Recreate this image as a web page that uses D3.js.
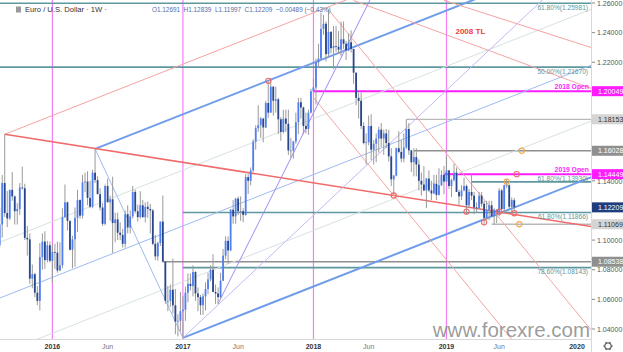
<!DOCTYPE html>
<html>
<head>
<meta charset="utf-8">
<script src="https://cdnjs.cloudflare.com/ajax/libs/d3/7.8.5/d3.min.js"></script>
<style>
  body { margin: 0; background: #fff; }
  svg { display: block; font-family: "Liberation Sans", Arial, sans-serif; }
</style>
</head>
<body>
<div id="chart"></div>
<script>
// weekly EUR/USD bars, [open, high, low, close], first bar = week of 2015-08-03
const firstBar = "2015-08-03";
const bars2015 = [
  [1.0985,1.1040,1.0850,1.0965],[1.0965,1.1215,1.0950,1.1105],[1.1105,1.1440,1.1017,1.1385],[1.1385,1.1714,1.1157,1.1183],
  [1.1183,1.1332,1.1087,1.1146],[1.1146,1.1340,1.1135,1.1339],[1.1339,1.1460,1.1265,1.1295],[1.1295,1.1300,1.1105,1.1195],
  [1.1195,1.1250,1.1105,1.1210],[1.1210,1.1385,1.1170,1.1355],[1.1355,1.1495,1.1340,1.1350],[1.1350,1.1380,1.1000,1.1015],
  [1.1015,1.1095,1.0895,1.1005],[1.1005,1.1045,1.0705,1.0740],[1.0740,1.0835,1.0675,1.0770],[1.0770,1.0780,1.0615,1.0645],
  [1.0645,1.0690,1.0560,1.0590],[1.0590,1.0980,1.0525,1.0885],[1.0885,1.1045,1.0800,1.0990],[1.0990,1.1060,1.0805,1.0865],
  [1.0865,1.0995,1.0850,1.0965],[1.0965,1.0990,1.0850,1.0860]
];
const bars2016 = [
  [1.0860,1.0970,1.0710,1.0920],[1.0920,1.0975,1.0805,1.0915],[1.0915,1.0990,1.0780,1.0795],[1.0795,1.0985,1.0790,1.0830],
  [1.0830,1.1215,1.0810,1.1155],[1.1155,1.1375,1.1150,1.1255],[1.1255,1.1260,1.1065,1.1130],[1.1130,1.1130,1.0930,1.0935],
  [1.0935,1.1030,1.0810,1.1005],[1.1005,1.1220,1.0820,1.1150],[1.1150,1.1340,1.1055,1.1270],[1.1270,1.1275,1.1145,1.1165],
  [1.1165,1.1440,1.1145,1.1390],[1.1390,1.1455,1.1325,1.1395],[1.1395,1.1465,1.1235,1.1285],[1.1285,1.1400,1.1215,1.1225],
  [1.1225,1.1475,1.1215,1.1455],[1.1455,1.1616,1.1385,1.1405],[1.1405,1.1430,1.1310,1.1310],[1.1310,1.1350,1.1200,1.1220],
  [1.1220,1.1250,1.1095,1.1110],[1.1110,1.1375,1.1100,1.1365],[1.1365,1.1415,1.1255,1.1255],[1.1255,1.1300,1.1130,1.1275],
  [1.1275,1.1428,1.0912,1.1115],[1.1115,1.1185,1.0985,1.1140],[1.1140,1.1185,1.1000,1.1050],[1.1050,1.1120,1.1000,1.1035],
  [1.1035,1.1075,1.0950,1.0975],[1.0975,1.1200,1.0950,1.1175],[1.1175,1.1235,1.1045,1.1085],[1.1085,1.1200,1.1045,1.1160],
  [1.1160,1.1365,1.1145,1.1325],[1.1325,1.1340,1.1180,1.1195],[1.1195,1.1240,1.1125,1.1155],[1.1155,1.1330,1.1145,1.1235],
  [1.1235,1.1270,1.1150,1.1155],[1.1155,1.1255,1.1120,1.1225],[1.1225,1.1260,1.1150,1.1210],[1.1210,1.1245,1.1045,1.1200],
  [1.1200,1.1210,1.0965,1.0975],[1.0975,1.1035,1.0865,1.0890],[1.0890,1.0990,1.0860,1.0980],[1.0980,1.1125,1.0960,1.1125],
  [1.1125,1.1300,1.0850,1.0855],[1.0855,1.0860,1.0570,1.0590],[1.0590,1.0690,1.0520,1.0590],[1.0590,1.0700,1.0550,1.0665],
  [1.0665,1.0875,1.0505,1.0560],[1.0560,1.0670,1.0365,1.0450],[1.0450,1.0500,1.0350,1.0455],[1.0455,1.0650,1.0385,1.0520]
];
const bars2017 = [
  [1.0520,1.0620,1.0340,1.0530],[1.0530,1.0685,1.0455,1.0645],[1.0645,1.0775,1.0580,1.0705],[1.0705,1.0775,1.0660,1.0690],
  [1.0690,1.0830,1.0620,1.0785],[1.0785,1.0790,1.0590,1.0640],[1.0640,1.0680,1.0520,1.0615],[1.0615,1.0630,1.0495,1.0560],
  [1.0560,1.0640,1.0495,1.0620],[1.0620,1.0715,1.0525,1.0670],[1.0670,1.0780,1.0635,1.0735],[1.0735,1.0830,1.0720,1.0800],
  [1.0800,1.0905,1.0650,1.0650],[1.0650,1.0700,1.0570,1.0640],[1.0640,1.0680,1.0570,1.0615],[1.0615,1.0780,1.0605,1.0725],
  [1.0725,1.0940,1.0725,1.0895],[1.0895,1.1025,1.0870,1.0995],[1.0995,1.1025,1.0840,1.0930],[1.0930,1.1210,1.0925,1.1205],
  [1.1205,1.1270,1.1110,1.1160],[1.1160,1.1285,1.1110,1.1280],[1.1280,1.1295,1.1170,1.1195],[1.1195,1.1295,1.1130,1.1195],
  [1.1195,1.1215,1.1120,1.1170],[1.1170,1.1445,1.1165,1.1425],[1.1425,1.1445,1.1310,1.1400],[1.1400,1.1490,1.1370,1.1470],
  [1.1470,1.1680,1.1460,1.1665],[1.1665,1.1775,1.1610,1.1755],[1.1755,1.1910,1.1730,1.1775],[1.1775,1.1830,1.1690,1.1820],
  [1.1820,1.1825,1.1660,1.1760],[1.1760,1.1940,1.1755,1.1925],[1.1925,1.2070,1.1825,1.1860],[1.1860,1.2092,1.1860,1.2035],
  [1.2035,1.2040,1.1840,1.1940],[1.1940,1.2035,1.1860,1.1950],[1.1950,1.1960,1.1715,1.1815],[1.1815,1.1830,1.1670,1.1730],
  [1.1730,1.1880,1.1720,1.1820],[1.1820,1.1880,1.1730,1.1785],[1.1785,1.1880,1.1575,1.1605],[1.1605,1.1690,1.1555,1.1605],
  [1.1605,1.1670,1.1550,1.1665],[1.1665,1.1860,1.1650,1.1795],[1.1795,1.1960,1.1715,1.1930],[1.1930,1.1960,1.1820,1.1895],
  [1.1895,1.1900,1.1715,1.1770],[1.1770,1.1860,1.1720,1.1750],[1.1750,1.1880,1.1710,1.1860],[1.1860,1.2020,1.1855,1.2005]
];
const bars2018 = [
  [1.2005,1.2090,1.1995,1.2030],[1.2030,1.2225,1.1915,1.2200],[1.2200,1.2325,1.2165,1.2225],[1.2225,1.2535,1.2215,1.2425],
  [1.2425,1.2520,1.2385,1.2460],[1.2460,1.2475,1.2205,1.2255],[1.2255,1.2555,1.2235,1.2405],[1.2405,1.2410,1.2260,1.2295],
  [1.2295,1.2445,1.2155,1.2310],[1.2310,1.2445,1.2270,1.2305],[1.2305,1.2410,1.2255,1.2285],[1.2285,1.2475,1.2240,1.2355],
  [1.2355,1.2475,1.2290,1.2325],[1.2325,1.2345,1.2215,1.2280],[1.2280,1.2395,1.2275,1.2335],[1.2335,1.2415,1.2265,1.2290],
  [1.2290,1.2290,1.2055,1.2130],[1.2130,1.2130,1.1910,1.1960],[1.1960,1.1995,1.1820,1.1940],[1.1940,1.1995,1.1750,1.1770],
  [1.1770,1.1795,1.1645,1.1655],[1.1655,1.1720,1.1510,1.1660],[1.1660,1.1840,1.1640,1.1770],[1.1770,1.1850,1.1540,1.1610],
  [1.1610,1.1675,1.1510,1.1650],[1.1650,1.1720,1.1525,1.1685],[1.1685,1.1765,1.1590,1.1745],[1.1745,1.1790,1.1630,1.1685],
  [1.1685,1.1745,1.1575,1.1720],[1.1720,1.1750,1.1620,1.1655],[1.1655,1.1745,1.1530,1.1565],[1.1565,1.1620,1.1365,1.1410],
  [1.1410,1.1440,1.1301,1.1435],[1.1435,1.1625,1.1430,1.1620],[1.1620,1.1735,1.1585,1.1595],[1.1595,1.1675,1.1525,1.1550],
  [1.1550,1.1720,1.1525,1.1625],[1.1625,1.1815,1.1615,1.1750],[1.1750,1.1790,1.1575,1.1605],[1.1605,1.1610,1.1460,1.1525],
  [1.1525,1.1620,1.1430,1.1560],[1.1560,1.1620,1.1430,1.1510],[1.1510,1.1545,1.1335,1.1400],[1.1400,1.1455,1.1300,1.1375],
  [1.1375,1.1500,1.1330,1.1335],[1.1335,1.1420,1.1215,1.1415],[1.1415,1.1470,1.1325,1.1335],[1.1335,1.1400,1.1270,1.1315],
  [1.1315,1.1440,1.1310,1.1380],[1.1380,1.1440,1.1270,1.1305],[1.1305,1.1485,1.1300,1.1370],[1.1370,1.1470,1.1365,1.1440],
  [1.1440,1.1500,1.1310,1.1395]
];
const bars2019 = [
  [1.1395,1.1570,1.1390,1.1470],[1.1470,1.1475,1.1345,1.1365],[1.1365,1.1415,1.1290,1.1405],[1.1405,1.1515,1.1395,1.1455],
  [1.1455,1.1490,1.1325,1.1325],[1.1325,1.1340,1.1235,1.1295],[1.1295,1.1370,1.1270,1.1335],[1.1335,1.1420,1.1330,1.1365],
  [1.1365,1.1375,1.1175,1.1235],[1.1235,1.1345,1.1220,1.1325],[1.1325,1.1450,1.1270,1.1300],[1.1300,1.1325,1.1175,1.1220],
  [1.1220,1.1255,1.1185,1.1215],[1.1215,1.1325,1.1210,1.1300],[1.1300,1.1325,1.1225,1.1245],[1.1245,1.1265,1.1110,1.1150],
  [1.1150,1.1265,1.1135,1.1200],[1.1200,1.1265,1.1135,1.1235],[1.1235,1.1265,1.1160,1.1160],[1.1160,1.1215,1.1105,1.1205],
  [1.1205,1.1205,1.1115,1.1190],[1.1190,1.1350,1.1160,1.1335],[1.1335,1.1345,1.1180,1.1210],[1.1210,1.1375,1.1180,1.1370],
  [1.1370,1.1412,1.1350,1.1370],[1.1370,1.1375,1.1210,1.1225],[1.1225,1.1287,1.1193,1.1270],[1.12691,1.12839,1.11997,1.12209]
];

// axis labels the price tags do not cover
const priceTicks = [1.26, 1.24, 1.22, 1.14, 1.10, 1.08, 1.06, 1.04];
const timeTicks = [["2016-01-04","2016"],["2016-06-06","Jun"],["2017-01-02","2017"],["2017-06-05","Jun"],
                   ["2018-01-01","2018"],["2018-06-04","Jun"],["2019-01-07","2019"],["2019-06-03","Jun"],["2020-01-06","2020"]];
const yearLines = ["2016-01-04","2017-01-02","2018-01-01","2019-01-07"];

// fib retracement levels: [price, from date (null = whole chart), label]
const fibLevels = [
  [1.25981, null, "61.80%(1.25981)"],
  [1.21670, null, "50.00%(1.21670)"],
  [1.13930, "2019-03-18", "61.80%(1.13930)"],
  [1.11866, "2017-01-02", "61.80%(1.11866)"],
  [1.08143, "2017-01-02", "78.60%(1.08143)"]
];
// horizontal levels with price tags on the axis: [price, from date, kind]
const levels = [
  [1.20049, "2018-01-01", "open"],
  [1.18153, "2018-09-17", "light"],
  [1.16028, "2018-10-08", "dark"],
  [1.14449, "2018-12-31", "open"],
  [1.11069, "2019-05-13", "light"],
  [1.08538, "2016-11-07", "dark"]
];
const openLabels = [[1.20049, "2018 Open"], [1.14449, "2019 Open"]];
const lastClose = 1.12209;

// trend lines: [kind, [date, price], [date, price], extend]
const trendLines = [
  ["blue",      ["2016-05-02",1.1616], ["2018-02-12",1.2236], "right"],
  ["blue",      ["2017-01-02",1.0340], ["2019-07-15",1.1220], "right"],
  ["blueThin",  ["2016-05-02",1.0862], ["2019-07-15",1.1976], "both"],
  ["faint",     ["2016-05-02",1.1239], ["2019-07-15",1.2353], "both"],
  ["faint",     ["2016-05-02",1.0485], ["2019-07-15",1.1599], "both"],
  ["blueThin",  ["2016-05-02",1.1616], ["2017-01-02",1.0340], "none"],
  ["redThin",   ["2015-08-24",1.1714], ["2018-02-12",1.2574], "right"],
  ["red",       ["2015-08-24",1.1714], ["2018-08-13",1.1301], "right"],
  ["redThin",   ["2018-02-12",1.2555], ["2019-10-07",1.0778], "right"],
  ["redThin",   ["2018-01-01",1.1962], ["2019-03-11",1.0681], "right"],
  ["redThin",   ["2018-04-23",1.2617], ["2019-07-15",1.2216], "right"],
  ["redThin",   ["2018-12-31",1.2618], ["2019-07-15",1.2466], "right"],
  ["purple",    ["2017-04-10",1.0570], ["2017-12-04",1.1722], "right"],
  ["purpleLt",  ["2017-01-02",1.0340], ["2018-11-12",1.1884], "right"]
];
// touch markers: [date, price, colour kind]
const markers = [
  ["2017-08-28",1.2075,"red"],
  ["2018-08-13",1.1301,"red"],
  ["2019-03-04",1.1192,"red"],
  ["2019-04-22",1.1120,"red"],
  ["2019-06-03",1.1192,"red"],
  ["2019-07-15",1.1181,"red"],
  ["2019-06-24",1.1394,"orange"],
  ["2019-07-22",1.14449,"red"],
  ["2019-07-29",1.11069,"orange"],
  ["2019-08-05",1.16028,"orange"]
];
const header = {
  title: "Euro / U.S. Dollar · 1W ·",
  ohlc: "O1.12691  H1.12839  L1.11997  C1.12209  \u22120.00489 (\u22120.43%)"
};

const W = 623, H = 352;
const plotR = 591, plotB = 339;
const parse = d3.utcParse("%Y-%m-%d");

const x = d3.scaleUtc()
  .domain([parse("2016-01-04"), parse("2020-01-06")])
  .range([52.4, 577]);
const y = d3.scaleLinear().domain([1.26, 1.04]).range([3, 329]);

const bars = [...bars2015, ...bars2016, ...bars2017, ...bars2018, ...bars2019].map((b, i) => ({
  date: d3.utcWeek.offset(parse(firstBar), i), o: b[0], h: b[1], l: b[2], c: b[3]
}));

const svg = d3.select("#chart").append("svg").attr("width", W).attr("height", H);
svg.append("rect").attr("width", W).attr("height", H).attr("fill", "#fff");
svg.append("defs").append("clipPath").attr("id", "plot")
  .append("rect").attr("width", plotR).attr("height", plotB);

const plot = svg.append("g").attr("clip-path", "url(#plot)");

// year separators
plot.selectAll("line.year").data(yearLines).join("line")
  .attr("x1", d => x(parse(d))).attr("x2", d => x(parse(d)))
  .attr("y1", 0).attr("y2", plotB)
  .attr("stroke", "#f47ff4").attr("stroke-width", 1.2);

const lineStyle = {
  blue:     { stroke: "#6f9ceb", width: 2 },
  blueThin: { stroke: "#9dbcf2", width: 1 },
  faint:    { stroke: "#d6e2e2", width: 1 },
  red:      { stroke: "#f06a6a", width: 1.6 },
  redThin:  { stroke: "#f5a3a3", width: 1 },
  purple:   { stroke: "#9d8cf0", width: 1 },
  purpleLt: { stroke: "#c4b8f2", width: 1 }
};

function segment(a, b, extend) {
  const p1 = [x(parse(a[0])), y(a[1])], p2 = [x(parse(b[0])), y(b[1])];
  const k = (p2[1] - p1[1]) / (p2[0] - p1[0]);
  const at = xx => [xx, p1[1] + k * (xx - p1[0])];
  const s = (extend === "both") ? at(-20) : p1;
  const e = (extend === "none") ? p2 : at(W + 20);
  return [s, e];
}

// horizontal fib lines
plot.selectAll("line.fib").data(fibLevels).join("line")
  .attr("x1", d => d[1] ? x(parse(d[1])) : 0).attr("x2", plotR)
  .attr("y1", d => y(d[0])).attr("y2", d => y(d[0]))
  .attr("stroke", "#5e979e").attr("stroke-width", 1.6);

const levelStyle = {
  open:  { stroke: "#ff1cff", width: 2, tag: "#ff1cff", text: "#fff" },
  light: { stroke: "#b9b9b9", width: 1.3, tag: "#d4d4d4", text: "#333" },
  dark:  { stroke: "#8f8f8f", width: 1.6, tag: "#8f8f8f", text: "#fff" }
};
plot.selectAll("line.lvl").data(levels).join("line")
  .attr("x1", d => x(parse(d[1]))).attr("x2", plotR)
  .attr("y1", d => y(d[0])).attr("y2", d => y(d[0]))
  .attr("stroke", d => levelStyle[d[2]].stroke).attr("stroke-width", d => levelStyle[d[2]].width);

// trend lines
plot.selectAll("line.trend").data(trendLines).join("line")
  .each(function(d) {
    const [s, e] = segment(d[1], d[2], d[3]);
    d3.select(this).attr("x1", s[0]).attr("y1", s[1]).attr("x2", e[0]).attr("y2", e[1]);
  })
  .attr("stroke", d => lineStyle[d[0]].stroke)
  .attr("stroke-width", d => lineStyle[d[0]].width);

// candles
const bw = 1.8;
const candle = plot.selectAll("g.bar").data(bars).join("g");
candle.append("line")
  .attr("x1", d => x(d.date)).attr("x2", d => x(d.date))
  .attr("y1", d => y(d.h)).attr("y2", d => y(d.l))
  .attr("stroke", "#9a9a9a").attr("stroke-width", 1);
candle.append("rect")
  .attr("x", d => x(d.date) - bw / 2).attr("width", bw)
  .attr("y", d => y(Math.max(d.o, d.c)))
  .attr("height", d => Math.max(0.8, Math.abs(y(d.o) - y(d.c))))
  .attr("fill", d => d.c >= d.o ? "#4f7ff5" : "#28468c");

// markers
plot.selectAll("circle.mk").data(markers).join("circle")
  .attr("cx", d => x(parse(d[0]))).attr("cy", d => y(d[1])).attr("r", 2.6)
  .attr("fill", "none")
  .attr("stroke", d => d[2] === "red" ? "#ef6b6b" : "#f2aa4c").attr("stroke-width", 1.1);

// text on the plot
plot.selectAll("text.fib").data(fibLevels).join("text")
  .attr("x", 588).attr("y", d => y(d[0]) + (d[0] === 1.13930 ? -0.5 : 6.5))
  .attr("text-anchor", "end").attr("font-size", 6.6).attr("fill", "#5e979e")
  .text(d => d[2]);
plot.selectAll("text.open").data(openLabels).join("text")
  .attr("x", 589).attr("y", d => y(d[0]) - 1.8)
  .attr("text-anchor", "end").attr("font-size", 6.8).attr("font-weight", "bold").attr("fill", "#ff1cff")
  .text(d => d[1]);
plot.append("text").attr("x", x(parse("2019-01-07")) + 9).attr("y", 34)
  .attr("font-size", 8).attr("font-weight", "bold").attr("fill", "#f03c3c").text("2008 TL");

// watermark
svg.append("text").attr("x", 590).attr("y", 337).attr("text-anchor", "end")
  .attr("font-size", 20.5).attr("fill", "#8a8a8a").attr("fill-opacity", 0.85)
  .text("www.forexre.com");

// axes frame
svg.append("line").attr("x1", plotR + 0.5).attr("x2", plotR + 0.5).attr("y1", 0).attr("y2", H)
  .attr("stroke", "#d8d8d8");
svg.append("line").attr("x1", 0).attr("x2", plotR).attr("y1", plotB + 0.5).attr("y2", plotB + 0.5)
  .attr("stroke", "#d8d8d8");

// price axis
const yAxis = svg.append("g");
yAxis.selectAll("text").data(priceTicks).join("text")
  .attr("x", 597).attr("y", d => y(d) + (d === 1.14 ? 3.5 : 2.5)).attr("font-size", 7).attr("fill", "#555")
  .text(d => d.toFixed(5));
yAxis.selectAll("line").data(priceTicks).join("line")
  .attr("x1", plotR + 1).attr("x2", plotR + 4).attr("y1", d => y(d)).attr("y2", d => y(d))
  .attr("stroke", "#888");

// price tags
const tags = [...levels.map(d => [d[0], levelStyle[d[2]].tag, levelStyle[d[2]].text]),
              [lastClose, "#1f3c7c", "#fff"]];
const tag = svg.selectAll("g.tag").data(tags).join("g")
  .attr("transform", d => `translate(${plotR + 1},${y(d[0])})`);
tag.append("rect").attr("x", 0).attr("y", -5).attr("width", W - plotR).attr("height", 10)
  .attr("fill", d => d[1]);
tag.append("text").attr("x", 6).attr("y", 2.5).attr("font-size", 7).attr("fill", d => d[2])
  .text(d => d[0].toFixed(5));

// time axis
svg.selectAll("text.tick").data(timeTicks).join("text")
  .attr("x", d => x(parse(d[0]))).attr("y", 349)
  .attr("text-anchor", "middle").attr("font-size", 7)
  .attr("font-weight", d => d[1] === "Jun" ? "normal" : "bold")
  .attr("fill", d => d[1] === "Jun" ? "#777" : "#333")
  .text(d => d[1]);

// settings gear
const gear = svg.append("g").attr("transform", "translate(608,346)");
gear.append("circle").attr("r", 3.2).attr("fill", "none").attr("stroke", "#666").attr("stroke-width", 1.2);
gear.selectAll("line").data(d3.range(6)).join("line")
  .attr("x1", d => 3 * Math.cos(d * Math.PI / 3)).attr("y1", d => 3 * Math.sin(d * Math.PI / 3))
  .attr("x2", d => 4.6 * Math.cos(d * Math.PI / 3)).attr("y2", d => 4.6 * Math.sin(d * Math.PI / 3))
  .attr("stroke", "#666").attr("stroke-width", 1.3);

// header
svg.append("rect").attr("x", 16).attr("y", 6.5).attr("width", 5).attr("height", 6).attr("fill", "#9a9a9a");
svg.append("text").attr("x", 25).attr("y", 12).attr("font-size", 7.6).attr("fill", "#333").text(header.title);
svg.append("text").attr("x", 152).attr("y", 12).attr("font-size", 6.4).attr("fill", "#4f6fa8")
  .attr("xml:space", "preserve").style("white-space", "pre").text(header.ohlc);
</script>
</body>
</html>
